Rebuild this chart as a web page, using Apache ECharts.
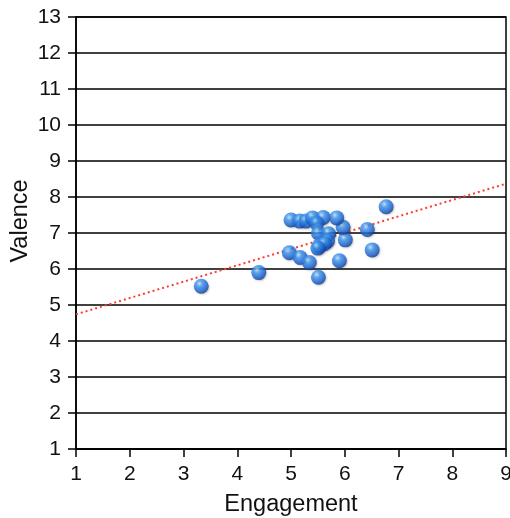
<!DOCTYPE html>
<html>
<head>
<meta charset="utf-8">
<script src="https://cdn.jsdelivr.net/npm/echarts@6/dist/echarts.min.js"></script>
<style>html,body{margin:0;padding:0;background:#fff}#c{width:510px;height:518px}</style>
</head>
<body>
<div id="c"></div>
<script>
const engagement = [3.33, 4.40, 4.97, 5.17, 5.34, 5.51, 5.90, 6.51, 6.77, 6.42, 6.01, 5.97, 5.00, 5.16, 5.28, 5.40, 5.60, 5.85, 5.48, 5.51, 5.70, 5.68, 5.53, 5.62, 5.50];
const valence    = [5.52, 5.90, 6.45, 6.32, 6.18, 5.77, 6.23, 6.53, 7.73, 7.10, 6.81, 7.16, 7.36, 7.33, 7.33, 7.42, 7.43, 7.42, 7.27, 7.00, 6.98, 6.78, 6.65, 6.70, 6.58];
const trendX = [1, 9];
const trendY = [4.74, 8.37];
const xTicks = [1, 2, 3, 4, 5, 6, 7, 8, 9];
const yTicks = [1, 2, 3, 4, 5, 6, 7, 8, 9, 10, 11, 12, 13];

const chart = echarts.init(document.getElementById('c'), null, {renderer: 'canvas'});
const font = 'Liberation Sans, Arial, sans-serif';
chart.setOption({
  animation: false,
  backgroundColor: '#fff',
  grid: {left: 76, right: 4, top: 17, bottom: 69, show: true, borderColor: '#000', borderWidth: 1.5, containLabel: false, outerBoundsMode: 'none'},
  xAxis: {
    type: 'value', min: xTicks[0], max: xTicks[xTicks.length - 1], interval: 1,
    name: 'Engagement', nameLocation: 'middle', nameGap: 44, nameMoveOverlap: false,
    nameTextStyle: {fontFamily: font, fontSize: 23.5, color: '#111'},
    axisLine: {show: true, lineStyle: {color: '#000', width: 1.5}},
    axisTick: {show: true, inside: false, length: 8, lineStyle: {color: '#000', width: 1.5}},
    axisLabel: {fontFamily: font, fontSize: 21, color: '#111', margin: 15},
    splitLine: {show: false}
  },
  yAxis: {
    type: 'value', min: yTicks[0], max: yTicks[yTicks.length - 1], interval: 1,
    name: 'Valence', nameLocation: 'middle', nameGap: 43, nameRotate: 90, nameMoveOverlap: false,
    nameTextStyle: {fontFamily: font, fontSize: 23.5, color: '#111', padding: [0, 0, 0, 24]},
    axisLine: {show: true, lineStyle: {color: '#000', width: 1.5}},
    axisTick: {show: true, inside: false, length: 8, lineStyle: {color: '#000', width: 1.5}},
    axisLabel: {fontFamily: font, fontSize: 21, color: '#111', margin: 15},
    splitLine: {show: true, lineStyle: {color: '#000', width: 1.5}}
  },
  series: [
    {
      type: 'line',
      data: trendX.map((x, i) => [x, trendY[i]]),
      showSymbol: false, symbol: 'none',
      lineStyle: {color: '#ff3b30', width: 2, type: [2, 3]},
      z: 3
    },
    {
      type: 'scatter',
      data: engagement.map((x, i) => [x, valence[i]]),
      symbolSize: 15,
      itemStyle: {
        color: new echarts.graphic.RadialGradient(0.38, 0.32, 0.7, [
          {offset: 0, color: '#c4e6ff'},
          {offset: 0.3, color: '#3f98f2'},
          {offset: 0.75, color: '#1760d0'},
          {offset: 1, color: '#0b3a8c'}
        ]),
        shadowColor: 'rgba(0,0,0,0.25)', shadowBlur: 2, shadowOffsetX: 1, shadowOffsetY: 1
      },
      z: 4
    }
  ]
});
</script>
</body>
</html>
